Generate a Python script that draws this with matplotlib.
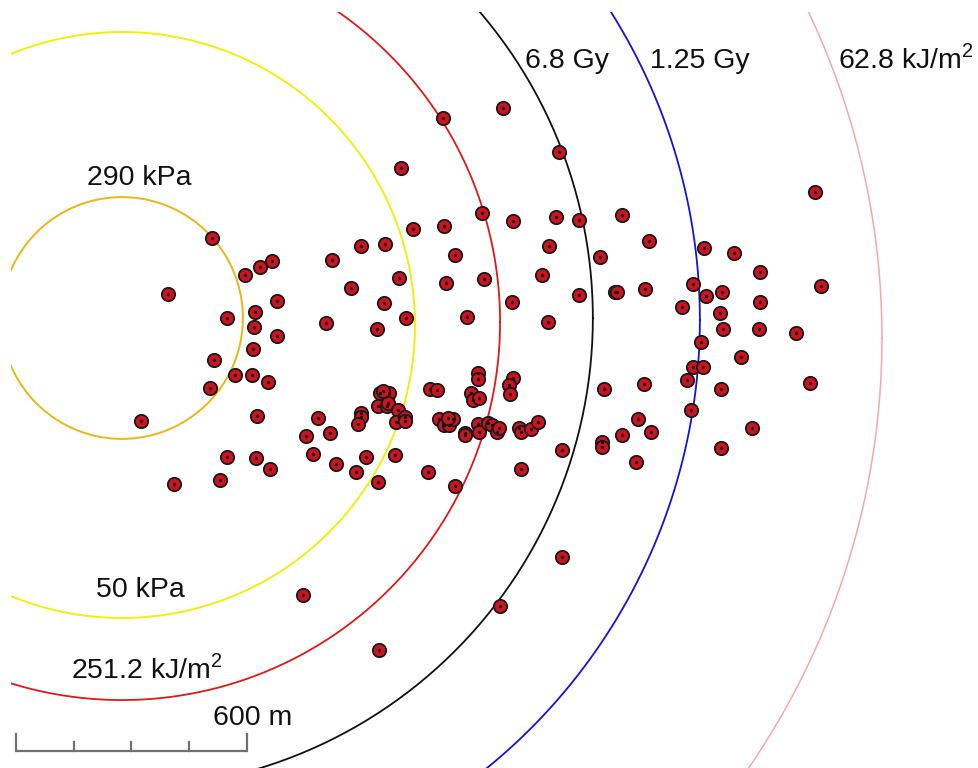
"""
Mapa de efeitos: aneis de sobrepressao, radiacao e calor em volta do ponto zero,
com os pontos de interesse marcados por cima.
"""
import matplotlib
matplotlib.use("Agg")
import matplotlib.pyplot as plt
import numpy as np

plt.rcParams["font.family"] = ["Liberation Sans", "DejaVu Sans"]
plt.rcParams["mathtext.fontset"] = "custom"
plt.rcParams["mathtext.rm"] = "Liberation Sans"

M_PER_PX = 600 / 231          # escala do mapa (barra de 600 m)
W, H = 979, 768               # mapa em pixels

# aneis: raio em metros, centro no mapa (px)
ring_labels = ["290 kPa", "50 kPa", "251.2 kJ/m$^2$", "6.8 Gy", "1.25 Gy", "62.8 kJ/m$^2$"]
ring_radius_m = [314, 761, 982, 1223, 1501, 1974]
ring_cx = [122, 122, 122, 122, 122, 122]
ring_cy = [318, 325, 322, 318, 320, 338]
ring_colors = ["#e8b818", "#f2ee10", "#e01818", "#111111", "#1414d8", "#f2a8b0"]
ring_lw = [1.4, 1.4, 1.3, 1.3, 1.3, 1.1]

pt_x = [212, 272, 260, 245, 168, 277, 255, 227, 254, 277, 253, 214, 235, 252, 268, 210,
        257, 141, 227, 256, 270, 220, 174,
        413, 444, 361, 385, 332, 455, 399, 446, 351, 384, 406, 467, 326, 377, 401,
        380, 389, 378, 387, 388, 383, 398, 396, 405, 405, 361, 361, 358, 318, 306, 330,
        313, 336, 356, 366, 395, 378, 428, 455, 430, 437, 439, 444, 449, 453, 448, 465, 465,
        503, 443, 559, 482, 513, 556, 579, 549, 600, 542, 484, 615, 579, 512, 548,
        478, 478, 513, 509, 510, 471, 473, 479, 478, 479, 488, 492, 497, 499, 519, 521,
        531, 538, 562, 521, 604, 602, 602,
        815, 622, 649, 704, 734, 760, 821, 693, 722, 706, 617, 645, 682, 760, 720, 723,
        759, 796, 701, 741, 693, 703, 687, 644, 810, 721, 691, 638, 622, 651, 752, 721, 636,
        562, 303, 500, 379]
pt_y = [238, 261, 267, 275, 294, 301, 312, 318, 327, 336, 349, 360, 375, 375, 382, 388,
        416, 421, 457, 458, 469, 480, 484,
        229, 226, 246, 244, 260, 255, 278, 283, 288, 303, 318, 317, 323, 329, 168,
        393, 393, 406, 406, 403, 391, 410, 422, 417, 421, 413, 417, 424, 418, 436, 433,
        454, 464, 472, 457, 455, 482, 472, 486, 389, 390, 419, 425, 425, 419, 418, 433, 435,
        108, 118, 152, 213, 221, 217, 220, 246, 257, 275, 279, 292, 295, 302, 322,
        373, 379, 378, 385, 394, 393, 400, 398, 424, 432, 423, 425, 432, 428, 428, 432,
        429, 422, 450, 469, 389, 442, 447,
        192, 215, 241, 248, 253, 272, 286, 284, 292, 296, 292, 289, 307, 302, 313, 329,
        329, 333, 342, 357, 367, 367, 380, 384, 383, 389, 410, 419, 435, 432, 428, 448, 462,
        557, 595, 606, 650]

# rotulos dos aneis (px, canto esquerdo na linha de base)
label_x = [87, 96, 71, 525, 650, 838]
label_y = [185, 597, 678, 68, 68, 68]

SCALE_M = 600
scale_x0, scale_y = 16, 751

fig = plt.figure(figsize=(W / 100, H / 100), dpi=100)
ax = fig.add_axes([11 / W, 0, (W - 11) / W, (H - 12) / H])
ax.set_xlim(11, W)
ax.set_ylim(H, 12)
ax.set_aspect("equal")
ax.axis("off")

t = np.linspace(0, 2 * np.pi, 720)
for r, cx, cy, c, lw in zip(ring_radius_m, ring_cx, ring_cy, ring_colors, ring_lw):
    rp = r / M_PER_PX
    ax.plot(cx + rp * np.cos(t), cy + rp * np.sin(t), color=c, lw=lw, zorder=2)

for lab, x, y in zip(ring_labels, label_x, label_y):
    ax.text(x, y, lab, fontsize=20.5, ha="left", va="baseline", color="#111111", zorder=4)

ax.plot(pt_x, pt_y, "o", ms=9.6, mfc="#cc141e", mec="#1a1a1a", mew=1.3, ls="none", zorder=3)
ax.plot(pt_x, pt_y, "o", ms=2.4, mfc="#111111", mec="#111111", mew=0, ls="none", zorder=3)

# barra de escala
bar_len = SCALE_M / M_PER_PX
ax.plot([scale_x0, scale_x0 + bar_len], [scale_y, scale_y], color="#707070", lw=1.6,
        solid_capstyle="butt", zorder=4)
for i in range(5):
    xt = scale_x0 + i * bar_len / 4
    h = 17 if i in (0, 4) else 9
    ax.plot([xt, xt], [scale_y, scale_y - h], color="#707070", lw=1.6, zorder=4)
ax.text(213, 725, f"{SCALE_M} m", fontsize=20.5, ha="left", va="baseline", color="#111111")

fig.savefig("out.png", dpi=100, facecolor="white")
